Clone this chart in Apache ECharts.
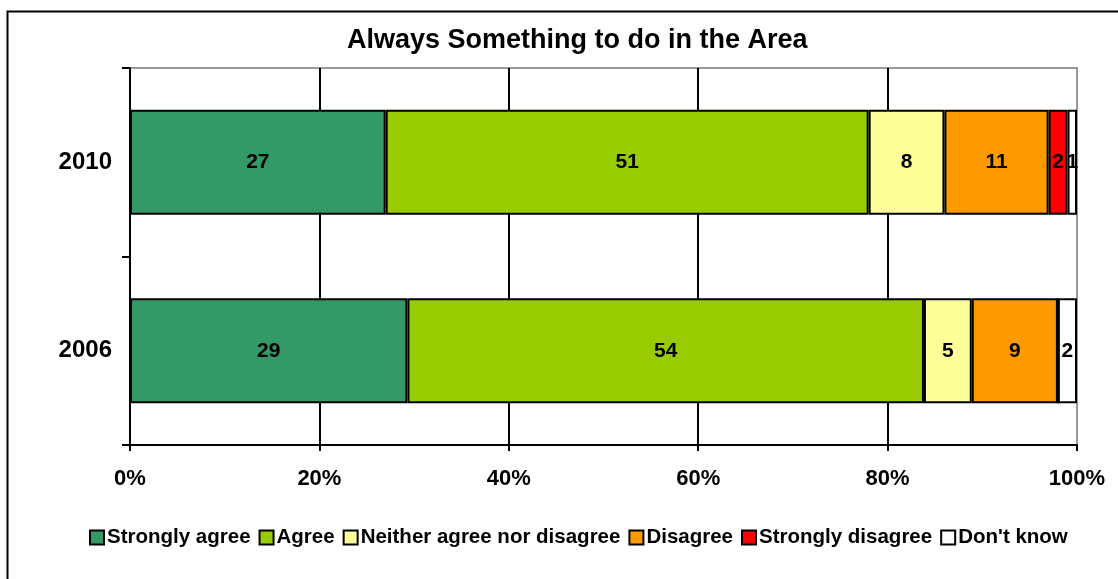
<!DOCTYPE html>
<html><head><meta charset="utf-8">
<script src="https://cdn.jsdelivr.net/npm/echarts@6/dist/echarts.min.js"></script>
<style>html,body{margin:0;padding:0;background:#fff}#c{width:1118px;height:579px}</style>
</head><body><div id="c"></div>
<script>
const categories = ['2006', '2010'];
const seriesNames = ['Strongly agree', 'Agree', 'Neither agree nor disagree', 'Disagree', 'Strongly disagree', "Don't know"];
const stronglyAgree = [29, 27];
const agree = [54, 51];
const neither = [5, 8];
const disagree = [9, 11];
const stronglyDisagree = [0, 2];
const dontKnow = [2, 1];
const colors = ['#339966', '#99CC00', '#FFFF99', '#FF9900', '#FF0000', '#FFFFFF'];
const xTicks = [0, 20, 40, 60, 80, 100];

const raw = [stronglyAgree, agree, neither, disagree, stronglyDisagree, dontKnow];
const totals = categories.map((c, i) => raw.reduce((s, a) => s + a[i], 0));
const FONT = '"Liberation Sans", Arial, sans-serif';

const chart = echarts.init(document.getElementById('c'), null, {renderer: 'canvas'});
chart.setOption({
  animation: false,
  backgroundColor: '#fff',
  title: {
    text: 'Always Something to do in the Area',
    left: 342, top: 22,
    textStyle: {fontFamily: FONT, fontSize: 27, fontWeight: 'bold', color: '#000'}
  },
  graphic: [{
    type: 'rect', shape: {x: 7.5, y: 11.5, width: 1130, height: 600},
    style: {fill: null, stroke: '#000', lineWidth: 2}, silent: true, z: -1
  }],
  legend: {
    bottom: 26, left: 84,
    icon: 'rect', itemWidth: 14, itemHeight: 14, itemGap: 8,
    textStyle: {fontFamily: FONT, fontSize: 20.5, fontWeight: 'bold', color: '#000', padding: [0, 0, 0, -2]},
    data: seriesNames
  },
  grid: {left: 130, right: 41, top: 68, bottom: 134, show: true, borderColor: '#999', borderWidth: 2, backgroundColor: 'transparent'},
  xAxis: {
    type: 'value', min: 0, max: 100, interval: 20,
    axisLine: {show: true, lineStyle: {color: '#000', width: 2}},
    axisTick: {show: true, length: 6, lineStyle: {color: '#000', width: 2}},
    axisLabel: {formatter: v => xTicks.includes(v) ? v + '%' : '', fontFamily: FONT, fontSize: 22, fontWeight: 'bold', color: '#000', margin: 23},
    splitLine: {show: true, lineStyle: {color: ['#000', '#000', '#000', '#000', '#000', '#999'], width: 2}}
  },
  yAxis: {
    type: 'category', data: categories,
    axisLine: {show: true, lineStyle: {color: '#000', width: 2}},
    axisTick: {show: true, length: 8, lineStyle: {color: '#000', width: 2}},
    axisLabel: {fontFamily: FONT, fontSize: 24, fontWeight: 'bold', color: '#000', margin: 18},
    splitLine: {show: false}
  },
  series: seriesNames.map((name, k) => ({
    name, type: 'bar', stack: 'total', barWidth: 105,
    itemStyle: {color: colors[k], borderColor: '#000', borderWidth: 2},
    label: {
      show: true, position: 'inside', fontFamily: FONT, fontSize: 21, fontWeight: 'bold', color: '#000',
      formatter: p => raw[k][p.dataIndex] ? String(raw[k][p.dataIndex]) : ''
    },
    data: raw[k].map((v, i) => v / totals[i] * 100)
  }))
});
</script></body></html>
